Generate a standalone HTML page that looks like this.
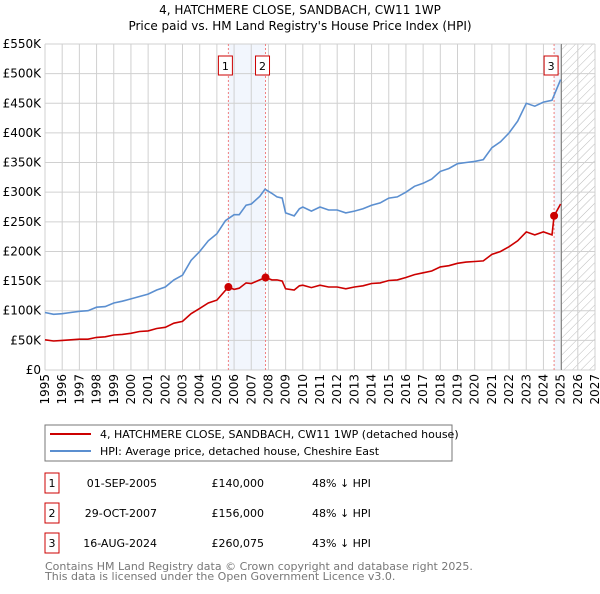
<!DOCTYPE html>
<html><head><meta charset="utf-8"><style>
body{margin:0;background:#fff;font-family:"DejaVu Sans","Liberation Sans",sans-serif;}
svg text{font-family:"DejaVu Sans","Liberation Sans",sans-serif;}
</style></head><body>
<svg id="c" width="600" height="590" xmlns="http://www.w3.org/2000/svg">
<defs><pattern id="hatch" width="6" height="6" patternUnits="userSpaceOnUse" patternTransform="rotate(45)"><line x1="0" y1="0" x2="0" y2="6" stroke="#bbb" stroke-width="1"/></pattern></defs>
<text x="300" y="14" text-anchor="middle" font-size="12">4, HATCHMERE CLOSE, SANDBACH, CW11 1WP</text>
<text x="300" y="30" text-anchor="middle" font-size="12">Price paid vs. HM Land Registry's House Price Index (HPI)</text>
<g id="plot"></g>
<rect x="45" y="425" width="407" height="36" fill="#fff" stroke="#777"/>
<line x1="50" y1="434" x2="91" y2="434" stroke="#cc0000" stroke-width="2"/>
<text x="100" y="438" font-size="11">4, HATCHMERE CLOSE, SANDBACH, CW11 1WP (detached house)</text>
<line x1="50" y1="451" x2="91" y2="451" stroke="#5b8fd0" stroke-width="2"/>
<text x="100" y="455" font-size="11">HPI: Average price, detached house, Cheshire East</text>
<g id="table" font-size="11"></g>
<text x="45" y="570" font-size="11" fill="#777">Contains HM Land Registry data © Crown copyright and database right 2025.</text>
<text x="45" y="580" font-size="11" fill="#777">This data is licensed under the Open Government Licence v3.0.</text>
</svg>
<script>
const hpiYears=[1995,1995.5,1996,1996.5,1997,1997.5,1998,1998.5,1999,1999.5,2000,2000.5,2001,2001.5,2002,2002.5,2003,2003.5,2004,2004.5,2005,2005.5,2006,2006.3,2006.7,2007,2007.5,2007.8,2008.2,2008.5,2008.8,2009,2009.5,2009.8,2010,2010.5,2011,2011.5,2012,2012.5,2013,2013.5,2014,2014.5,2015,2015.5,2016,2016.5,2017,2017.5,2018,2018.5,2019,2019.5,2020,2020.5,2021,2021.5,2022,2022.5,2023,2023.5,2024,2024.5,2025];
const hpiValues=[97,94,95,97,99,100,106,107,113,116,120,124,128,135,140,152,160,185,200,218,230,252,262,262,278,280,293,305,298,292,290,265,260,272,275,268,275,270,270,265,268,272,278,282,290,292,300,310,315,322,335,340,348,350,352,355,375,385,400,420,450,445,452,455,490];
const ppYears=[1995,1995.5,1996,1996.5,1997,1997.5,1998,1998.5,1999,1999.5,2000,2000.5,2001,2001.5,2002,2002.5,2003,2003.5,2004,2004.5,2005,2005.67,2006,2006.3,2006.7,2007,2007.5,2007.83,2008.2,2008.5,2008.8,2009,2009.5,2009.8,2010,2010.5,2011,2011.5,2012,2012.5,2013,2013.5,2014,2014.5,2015,2015.5,2016,2016.5,2017,2017.5,2018,2018.5,2019,2019.5,2020,2020.5,2021,2021.5,2022,2022.5,2023,2023.5,2024,2024.5,2024.62,2025];
const ppValues=[51,49,50,51,52,52,55,56,59,60,62,65,66,70,72,79,82,95,104,113,118,140,136,138,147,146,152,156,152,152,150,137,135,142,143,139,143,140,140,137,140,142,146,147,151,152,156,161,164,167,174,176,180,182,183,184,195,200,208,218,233,228,233,228,260,280];
const sales=[{n:"1",t:2005.67,v:140000,d:"01-SEP-2005",p:"£140,000",h:"48% ↓ HPI"},{n:"2",t:2007.83,v:156000,d:"29-OCT-2007",p:"£156,000",h:"48% ↓ HPI"},{n:"3",t:2024.62,v:260075,d:"16-AUG-2024",p:"£260,075",h:"43% ↓ HPI"}];
const yTicks=[0,50,100,150,200,250,300,350,400,450,500,550];
const xTicks=[1995,1996,1997,1998,1999,2000,2001,2002,2003,2004,2005,2006,2007,2008,2009,2010,2011,2012,2013,2014,2015,2016,2017,2018,2019,2020,2021,2022,2023,2024,2025,2026,2027];
const NS="http://www.w3.org/2000/svg";
const X=t=>45+(t-1995)*(550/32), Y=v=>370-v*(326/550);
const g=document.getElementById('plot');
function mk(tag,attrs,parent){const e=document.createElementNS(NS,tag);for(const k in attrs)e.setAttribute(k,attrs[k]);(parent||g).appendChild(e);return e;}
mk('rect',{x:X(2005.67),y:44,width:X(2007.83)-X(2005.67),height:326,fill:'#f2f6fd'});
mk('rect',{x:X(2024.62),y:44,width:X(2025.05)-X(2024.62),height:326,fill:'#f2f6fd'});
mk('rect',{x:X(2025.05),y:44,width:X(2027)-X(2025.05),height:326,fill:'url(#hatch)'});
yTicks.forEach(v=>{const l=mk('line',{x1:45,x2:595,y1:Y(v),y2:Y(v),stroke:'#d0d0d0'});

const t=mk('text',{x:41,y:Y(v)+4,'text-anchor':'end','font-size':12});t.textContent=v===0?'£0':'£'+v+'K';
});
xTicks.forEach(yr=>{const l=mk('line',{x1:X(yr),x2:X(yr),y1:44,y2:370,stroke:'#d0d0d0'});

const t=mk('text',{x:X(yr)+4,y:374,'text-anchor':'end','font-size':12,transform:`rotate(-90 ${X(yr)+4} 374)`});t.textContent=yr;
});
mk('line',{x1:X(2025.05),x2:X(2025.05),y1:44,y2:370,stroke:'#888'});
sales.forEach(s=>{const l=mk('line',{x1:X(s.t),x2:X(s.t),y1:44,y2:370,stroke:'#f08080','stroke-dasharray':'2,2'});

const bx=s.n==="3"?X(s.t)-10:X(s.t)-10;
const b=mk('rect',{x:bx,y:56,width:14,height:19,fill:'#fff',stroke:'#c00'});

const tx=mk('text',{x:bx+7,y:70,'text-anchor':'middle','font-size':11});tx.textContent=s.n;});
const path=(xs,vs)=>xs.map((t,i)=>(i?'L':'M')+X(t).toFixed(1)+','+Y(vs[i]).toFixed(1)).join('');
const h=mk('path',{d:path(hpiYears,hpiValues),fill:'none',stroke:'#5b8fd0','stroke-width':1.6});

const p=mk('path',{d:path(ppYears,ppValues),fill:'none',stroke:'#cc0000','stroke-width':1.6});

sales.forEach(s=>{const c=mk('circle',{cx:X(s.t),cy:Y(s.v/1000),r:4,fill:'#cc0000'});
});
const tb=document.getElementById('table');
sales.forEach((s,i)=>{const y=483+i*30;
const r=mk('rect',{x:45,y:y-10,width:14,height:20,fill:'#fff',stroke:'#c00'},tb);

let t=mk('text',{x:52,y:y+4,'text-anchor':'middle'},tb);t.textContent=s.n;
t=mk('text',{x:157,y:y+4,'text-anchor':'end'},tb);t.textContent=s.d;

t=mk('text',{x:264,y:y+4,'text-anchor':'end'},tb);t.textContent=s.p;

t=mk('text',{x:312,y:y+4},tb);t.textContent=s.h;
});
</script>
</body></html>
